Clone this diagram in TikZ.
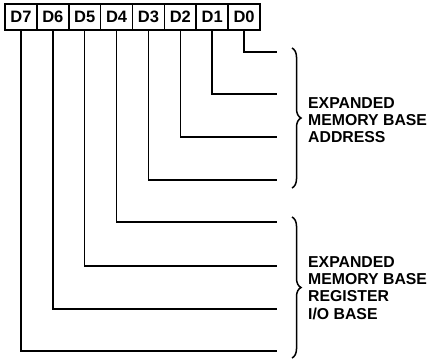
\documentclass[tikz,border=0pt]{standalone}
\usepackage{fontspec}
\setmainfont{Liberation Sans}
\usetikzlibrary{decorations.pathreplacing}
\begin{document}
\begin{tikzpicture}[x=1pt,y=-1pt,
  bitbox/.style={draw,line width=1.6pt,minimum width=31.9pt,minimum height=26pt,inner sep=0pt,
    font=\fontsize{16.5}{18}\selectfont\bfseries},
  wire/.style={line width=1.5pt,line cap=rect},
  curly/.style={line width=1.5pt,decorate,decoration={brace,amplitude=9pt}},
  lbl/.style={anchor=west,align=left,inner sep=0pt,font=\fontsize{15.8}{17.2}\selectfont\bfseries}]
\useasboundingbox (0,0) rectangle (432,360);
\foreach \n [count=\i from 0] in {7,6,5,4,3,2,1,0}{
  \node[bitbox] (b\n) at ({20.95+31.875*\i},17) {D\n};
}
\foreach \n/\y in {0/52,1/94,2/137,3/180,4/222,5/266,6/309,7/351}{
  \coordinate (e\n) at (276,\y);
  \draw[wire] (b\n.south) |- (e\n);
}
\coordinate (t1) at (292,48);
\coordinate (u1) at (292,188);
\coordinate (t2) at (292,217);
\coordinate (u2) at (292,358);
\draw[curly] (t1) -- (u1);
\draw[curly] (t2) -- (u2);
\node[lbl] (l1) at (308,120) {EXPANDED\\MEMORY BASE\\ADDRESS};
\node[lbl] (l2) at (308,288) {EXPANDED\\MEMORY BASE\\REGISTER\\I/O BASE};
\end{tikzpicture}
\end{document}
